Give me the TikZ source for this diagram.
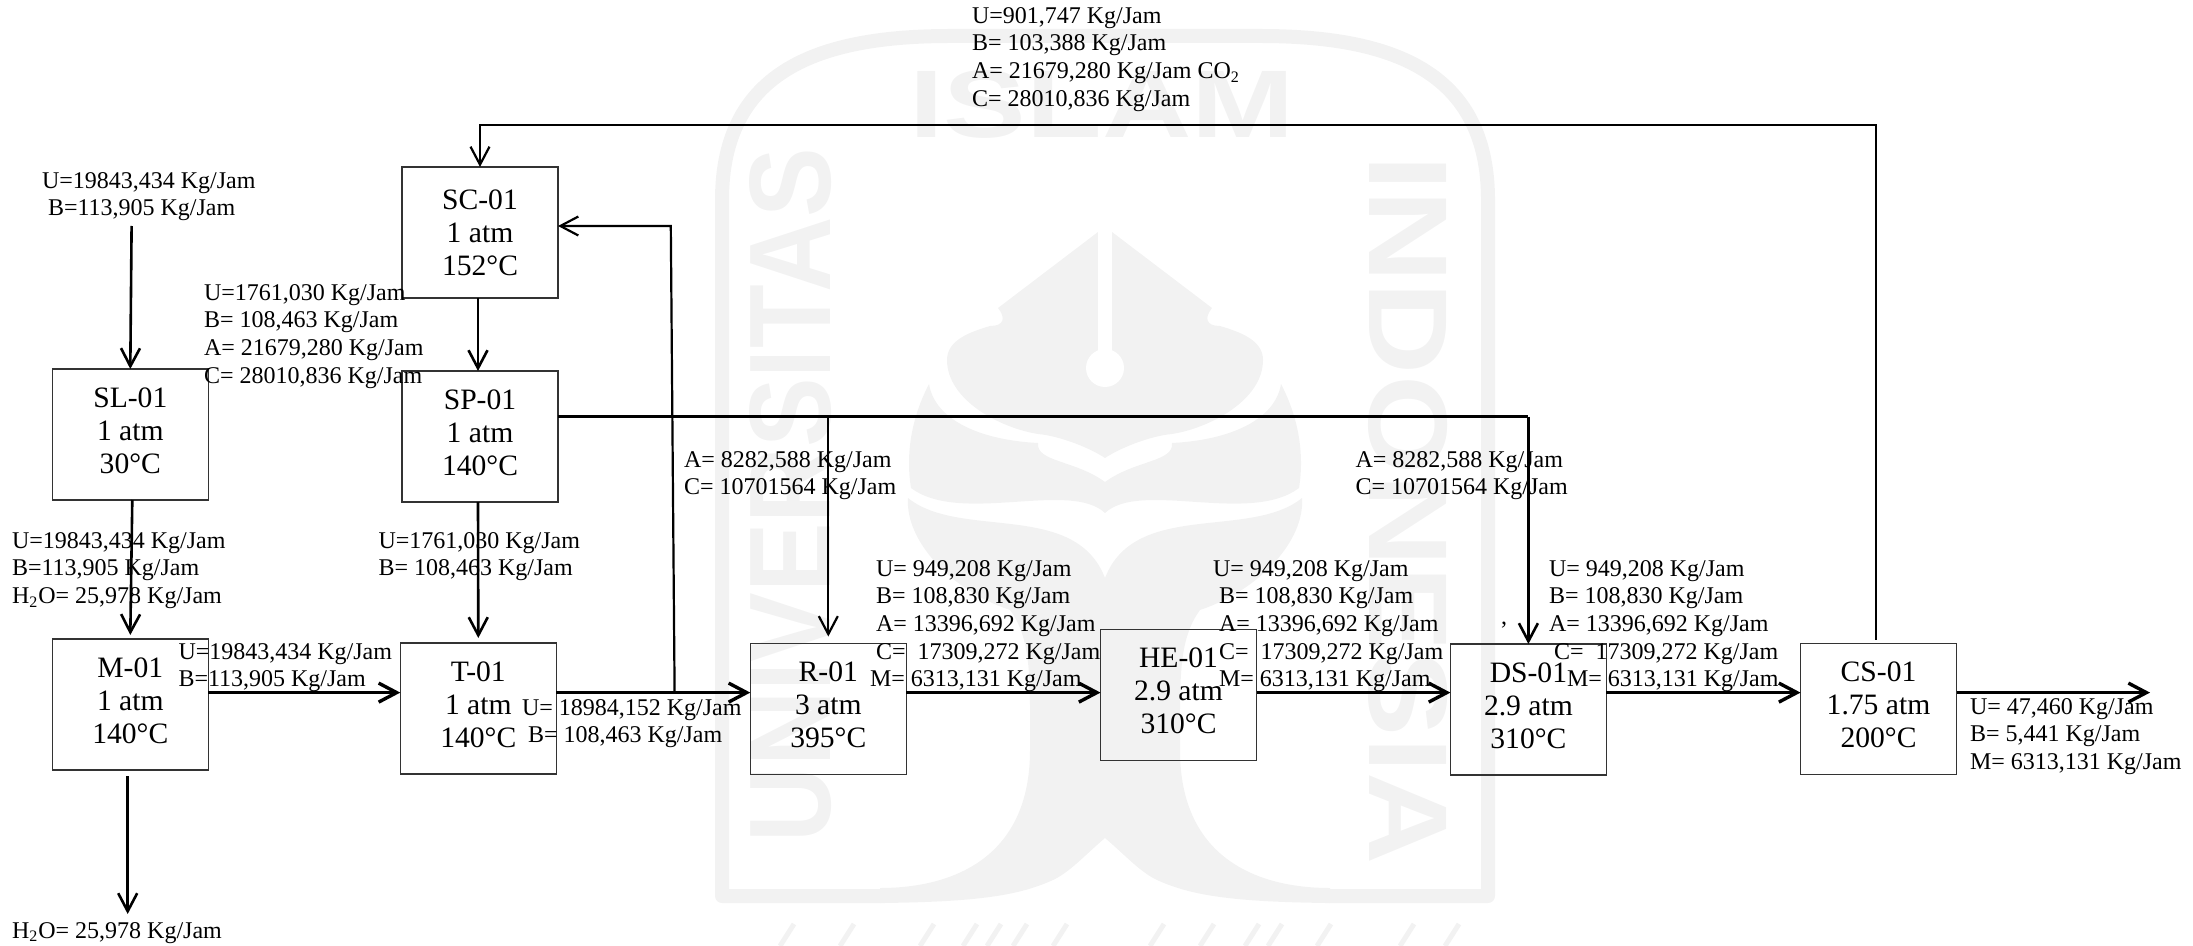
\documentclass[tikz,border=0pt]{standalone}
\usepackage{fontspec}
\setmainfont{Liberation Serif}
\newfontfamily\wmfont{Liberation Sans}
\usetikzlibrary{arrows.meta}
\definecolor{wm}{HTML}{F2F2F2}
\newcommand{\halfemblem}{%
  \fill[wm] (1098,232) -- (998,308) .. controls (1006,318) and (1004,326) .. (990,326)
    .. controls (970,332) and (947,340) .. (947,360) .. controls (947,400) and (1000,428) .. (1038,434)
    .. controls (1060,436) and (1090,448) .. (1105,458) -- (1105,232) -- cycle;
  \fill[wm] (929,384) .. controls (905,430) and (908,470) .. (911,488)
    .. controls (960,525) and (1070,480) .. (1105,513) -- (1105,482)
    .. controls (1075,460) and (1036,462) .. (1038,443) .. controls (980,440) and (935,420) .. (929,384) -- cycle;
  \fill[wm] (908,498) .. controls (960,540) and (1075,500) .. (1105,578) -- (1105,838)
    .. controls (1085,855) and (1070,872) .. (1053,880) .. controls (1020,895) and (980,902) .. (880,903)
    -- (880,888) .. controls (950,888) and (1030,860) .. (1030,750)
    .. controls (1030,680) and (1032,640) .. (1010,610)
    .. controls (950,590) and (905,540) .. (908,498) -- cycle;
}
\tikzset{
  unit/.style={draw=black!80,line width=0.6pt,minimum width=78pt,minimum height=65.5pt,inner sep=0pt,outer sep=0pt,
    align=center,font=\fontsize{14.8}{16.5}\selectfont,text depth=4pt},
  info/.style={anchor=north west,inner sep=0pt,outer sep=0pt,align=left,font=\fontsize{12}{13.8}\selectfont,yshift=-0.2pt},
  flow/.style={line width=1.3pt,-{Straight Barb[length=9pt,width=9.5pt]}},
  main/.style={line width=1.7pt,-{Straight Barb[length=9pt,width=9.5pt]}},
  pipe/.style={line width=1.1pt},
  wmtext/.style={text=wm,inner sep=0pt,font=\wmfont\bfseries},
}
\begin{document}
\begin{tikzpicture}[x=0.5pt,y=-0.5pt]
\useasboundingbox (0,0) rectangle (2193,946);
% watermark
\draw[wm,line width=7pt,line join=round] (885,896) -- (722,896) -- (722,200) .. controls (722,70) and (820,36) .. (950,36)
  -- (1260,36) .. controls (1390,36) and (1488,70) .. (1488,200) -- (1488,896) -- (1325,896);
\halfemblem
\begin{scope}[cm={-1,0,0,1,(2210,0)}]\halfemblem\end{scope}
\fill[white] (1098,225) rectangle (1112,360);
\fill[white] (1105,368) circle (19);
\node[wmtext,rotate=90] (wmu) at (791,495) {\fontsize{58}{60}\selectfont\scalebox{.9}[1]{UNIVERSITAS}};
\node[wmtext,rotate=-90] (wmi) at (1408,510) {\fontsize{56}{60}\selectfont\scalebox{1.14}[1]{INDONESIA}};
\node[wmtext] (wms) at (1102,104) {\fontsize{48}{50}\selectfont\scalebox{1.29}[1]{ISLAM}};
\foreach \wx in {780,840,920,963,987,1013,1053,1150,1200,1245,1268,1317,1400,1445}
  \draw[wm,line width=2.5pt] (\wx,946) -- (\wx+14,924);
% units
\node[unit,text depth=0pt] (SC) at (480,232.5) {SC-01\\1 atm\\152°C};
\node[unit] (SL) at (130.3,434.5) {SL-01\\1 atm\\30°C};
\node[unit] (SP) at (480,436.5) {SP-01\\1 atm\\140°C};
\node[unit] (M) at (130.3,704.5) {M-01\\1 atm\\140°C};
\node[unit] (T) at (478.3,708.5) {T-01\\1 atm\\140°C};
\node[unit] (R) at (828.3,709) {R-01\\3 atm\\395°C};
\node[unit] (HE) at (1178.5,695) {HE-01\\2.9 atm\\310°C};
\node[unit] (DS) at (1528.4,709.5) {DS-01\\2.9 atm\\310°C};
\node[unit] (CS) at (1878.5,709) {CS-01\\1.75 atm\\200°C};
% connector helpers
\coordinate (bus) at (0,692.6);
\coordinate (feed) at (131.6,226);
\coordinate (waste) at (127.7,914);
\coordinate (recyc) at (670.8,226);
\coordinate (spbus) at (0,416.5);
\coordinate (topbus) at (0,125);
\coordinate (prod) at (2150,692.6);
% connectors
\draw[flow] (feed) -- (SL.north);
\draw[flow] ([xshift=1pt]SL.south) -- ([yshift=2pt]M.north);
\draw[flow] ([xshift=-1.3pt,yshift=-3pt]M.south) -- (waste);
\draw[flow] ([xshift=-1pt]SC.south) -- ([xshift=-1pt]SP.north);
\draw[flow] ([xshift=-1pt]SP.south) -- ([yshift=2.5pt]T.north);
\draw[main] (M.east |- bus) -- (T.west |- bus);
\draw[main] (T.east |- bus) -- (R.west |- bus);
\draw[main] (R.east |- bus) -- (HE.west |- bus);
\draw[main] (HE.east |- bus) -- (DS.west |- bus);
\draw[main] (DS.east |- bus) -- (CS.west |- bus);
\draw[main] (CS.east |- bus) -- (prod);
\draw[pipe,-{Straight Barb[length=9pt,width=9.5pt]}] (674.6,692.6) -- (recyc) -- (SC.east |- recyc);
\draw[pipe] (SP.east |- spbus) -- (DS.north |- spbus);
\draw[flow] (DS.north |- spbus) -- (DS.north);
\draw[pipe,-{Straight Barb[length=9pt,width=9.5pt]}] (R.north |- spbus) -- ([yshift=3.5pt]R.north);
\draw[pipe,-{Straight Barb[length=9pt,width=9.5pt]}] ([xshift=-1.2pt,yshift=2pt]CS.north) |- (SC.north |- topbus) -- (SC.north);
% labels
\node[info] (l1) at (42,172) {U=19843,434 Kg/Jam\\\hspace*{3pt}B=113,905 Kg/Jam};
\node[info] (l2) at (204,284) {U=1761,030 Kg/Jam\\B= 108,463 Kg/Jam\\A= 21679,280 Kg/Jam\\C= 28010,836 Kg/Jam};
\node[info] (l3) at (12,532) {U=19843,434 Kg/Jam\\B=113,905 Kg/Jam\\H\textsubscript{2}O= 25,978 Kg/Jam};
\node[info] (l4) at (378.5,532) {U=1761,030 Kg/Jam\\B= 108,463 Kg/Jam};
\node[info] (l5) at (178.5,643) {U=19843,434 Kg/Jam\\B=113,905 Kg/Jam};
\node[info] (l6) at (522,699) {U= 18984,152 Kg/Jam\\\hspace*{3pt}B= 108,463 Kg/Jam};
\node[info] (l7) at (12,922) {H\textsubscript{2}O= 25,978 Kg/Jam};
\node[info] (l8) at (972,7) {U=901,747 Kg/Jam\\B= 103,388 Kg/Jam\\A= 21679,280 Kg/Jam CO\textsubscript{2}\\C= 28010,836 Kg/Jam};
\node[info] (l9) at (684,451) {A= 8282,588 Kg/Jam\\C= 10701564 Kg/Jam};
\node[info] (l10) at (1355.5,451) {A= 8282,588 Kg/Jam\\C= 10701564 Kg/Jam};
\node[info] (l11) at (870,560) {\hspace*{3pt}U= 949,208 Kg/Jam\\\hspace*{3pt}B= 108,830 Kg/Jam\\\hspace*{3pt}A= 13396,692 Kg/Jam\\\hspace*{3pt}C=~~17309,272 Kg/Jam\\M= 6313,131 Kg/Jam};
\node[info] (l12) at (1213,560) {U= 949,208 Kg/Jam\\\hspace*{3pt}B= 108,830 Kg/Jam\\\hspace*{3pt}A= 13396,692 Kg/Jam\\\hspace*{3pt}C=~~17309,272 Kg/Jam\\\hspace*{3pt}M= 6313,131 Kg/Jam};
\node[info] (l13) at (1549,560) {U= 949,208 Kg/Jam\\B= 108,830 Kg/Jam\\A= 13396,692 Kg/Jam\\\hspace*{2.5pt}C=~~17309,272 Kg/Jam\\\hspace*{9pt}M= 6313,131 Kg/Jam};
\node[info] (l14) at (1970,698) {U= 47,460 Kg/Jam\\B= 5,441 Kg/Jam\\M= 6313,131 Kg/Jam};
\node[info] (l15) at (1501,622) {,};
\end{tikzpicture}
\end{document}
